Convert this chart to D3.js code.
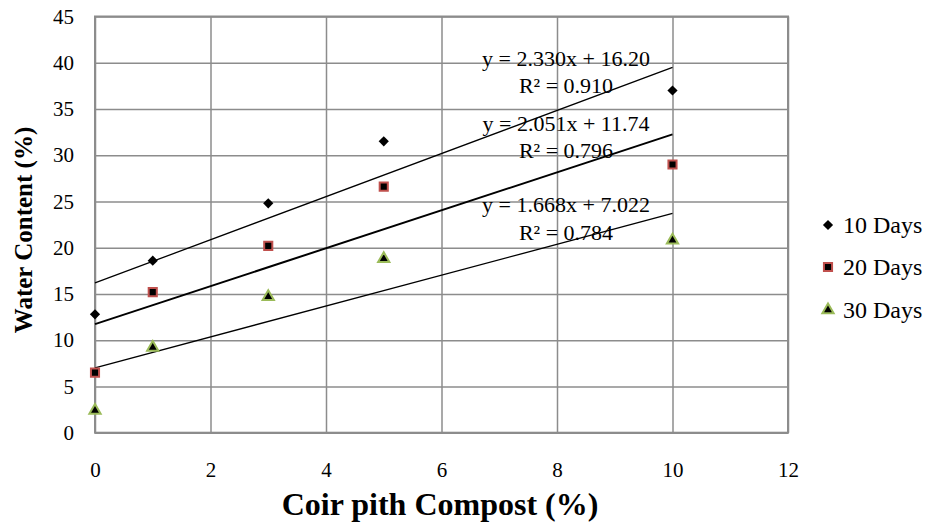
<!DOCTYPE html>
<html><head><meta charset="utf-8">
<script src="https://cdn.jsdelivr.net/npm/d3@7"></script>
<style>body{margin:0;background:#fff;} svg{display:block;}</style>
</head><body>
<svg id="c" width="933" height="523"></svg>
<script>
const xValues = [0, 1, 3, 5, 10];
const days10 = [12.8, 18.6, 24.8, 31.5, 37.0];
const days20 = [6.5, 15.2, 20.2, 26.6, 29.0];
const days30 = [2.4, 9.2, 14.7, 18.8, 20.8];
const seriesNames = ["10 Days", "20 Days", "30 Days"];
const trendSlopes = [2.330, 2.051, 1.668];
const trendIntercepts = [16.20, 11.74, 7.022];
const trendLabels = ["y = 2.330x + 16.20", "y = 2.051x + 11.74", "y = 1.668x + 7.022"];
const r2Labels = ["R² = 0.910", "R² = 0.796", "R² = 0.784"];
const xTicks = [0, 2, 4, 6, 8, 10, 12];
const yTicks = [0, 5, 10, 15, 20, 25, 30, 35, 40, 45];

const svg = d3.select("#c");
const font = "'Liberation Serif','Times New Roman',serif";
const L = 95, R = 788, T = 16.5, B = 432.7;
const x = d3.scaleLinear().domain([0, 12]).range([L, R]);
const y = d3.scaleLinear().domain([0, 45]).range([B, T]);
const grid = "#8c8c8c";

// grid
svg.append("g").attr("transform", `translate(0,${B})`)
  .call(d3.axisBottom(x).tickValues(xTicks).tickSize(-(B - T)).tickFormat(""))
  .call(g => g.select(".domain").remove())
  .call(g => g.selectAll("line").attr("stroke", grid).attr("stroke-width", 1.5));
svg.append("g").attr("transform", `translate(${L},0)`)
  .call(d3.axisLeft(y).tickValues(yTicks).tickSize(-(R - L)).tickFormat(""))
  .call(g => g.select(".domain").remove())
  .call(g => g.selectAll("line").attr("stroke", grid).attr("stroke-width", 1.5));
svg.append("rect").attr("x", L).attr("y", T).attr("width", R - L).attr("height", B - T)
  .attr("fill", "none").attr("stroke", grid).attr("stroke-width", 2);

// tick labels
svg.append("g").attr("transform", `translate(0,${B})`)
  .call(d3.axisBottom(x).tickValues(xTicks).tickSize(0).tickPadding(29))
  .call(g => g.select(".domain").remove())
  .call(g => g.selectAll("text").attr("font-family", font).attr("font-size", 21).attr("fill", "#000"));
svg.append("g").attr("transform", `translate(${L},0)`)
  .call(d3.axisLeft(y).tickValues(yTicks).tickSize(0).tickPadding(21))
  .call(g => g.select(".domain").remove())
  .call(g => g.selectAll("text").attr("font-family", font).attr("font-size", 21).attr("fill", "#000"));

// trendlines
const widths = [1.3, 2, 1.3];
trendSlopes.forEach((m, i) => {
  const b = trendIntercepts[i];
  svg.append("line")
    .attr("x1", x(0)).attr("y1", y(b))
    .attr("x2", x(10)).attr("y2", y(b + m * 10))
    .attr("stroke", "#000").attr("stroke-width", widths[i]);
});

// markers
const series = [days10, days20, days30];
const sym = [d3.symbolSquare, d3.symbolSquare, d3.symbolTriangle];
const sizes = [52, 66, 55];
const strokes = ["none", "#c0504d", "#9bbb59"];
function drawMarker(g, i) {
  g.append("path")
    .attr("d", d3.symbol().type(sym[i]).size(sizes[i])())
    .attr("transform", i === 0 ? "rotate(45)" : null)
    .attr("fill", "#000")
    .attr("stroke", strokes[i]).attr("stroke-width", 2);
}
series.forEach((vals, i) => {
  vals.forEach((v, j) => {
    const g = svg.append("g").attr("transform", `translate(${x(xValues[j])},${y(v)})`);
    drawMarker(g, i);
  });
});

// equation labels
const eqY = [[58, 85], [123, 150], [204, 232]];
trendLabels.forEach((t, i) => {
  svg.append("text").attr("x", 566).attr("y", eqY[i][0]).attr("dy", "0.35em")
    .attr("text-anchor", "middle").attr("font-family", font).attr("font-size", 22).text(t);
  svg.append("text").attr("x", 566).attr("y", eqY[i][1]).attr("dy", "0.35em")
    .attr("text-anchor", "middle").attr("font-family", font).attr("font-size", 22).text(r2Labels[i]);
});

// legend
const legY = [225, 267, 310];
seriesNames.forEach((n, i) => {
  const g = svg.append("g").attr("transform", `translate(828,${legY[i]})`);
  drawMarker(g, i);
  svg.append("text").attr("x", 843).attr("y", legY[i]).attr("dy", "0.35em")
    .attr("font-family", font).attr("font-size", 24).text(n);
});

// axis titles
svg.append("text").attr("x", 440).attr("y", 504).attr("dy", "0.35em")
  .attr("text-anchor", "middle").attr("font-family", font).attr("font-weight", "bold")
  .attr("font-size", 32).text("Coir pith Compost (%)");
svg.append("text").attr("transform", `translate(23,230) rotate(-90)`)
  .attr("dy", "0.35em").attr("text-anchor", "middle").attr("font-family", font)
  .attr("font-weight", "bold").attr("font-size", 25).text("Water Content (%)");
</script>
</body></html>
